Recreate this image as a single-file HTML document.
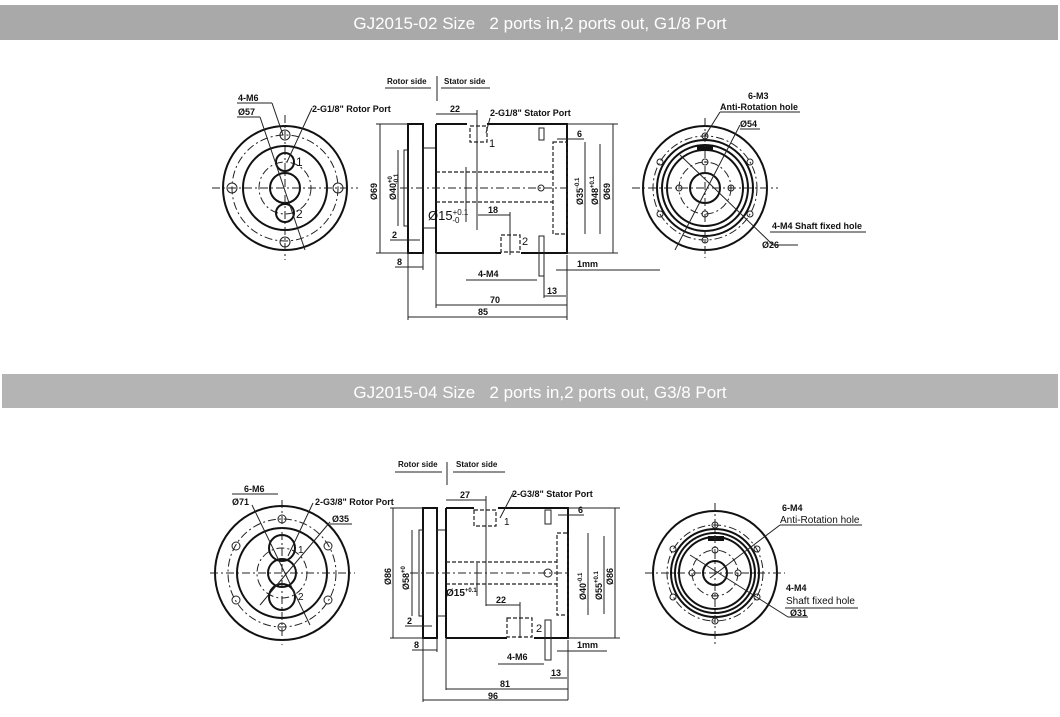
<!DOCTYPE html>
<html><head><meta charset="utf-8"><style>
html,body{margin:0;padding:0;background:#fff;width:1060px;height:717px;overflow:hidden}
svg{display:block}
text{font-family:"Liberation Sans",sans-serif;fill:#111}
.b{fill:none;stroke:#111;stroke-width:2}
.t{fill:none;stroke:#222;stroke-width:1}
.d{fill:none;stroke:#222;stroke-width:1;stroke-dasharray:8 3 2 3}
.h{fill:none;stroke:#222;stroke-width:1.2;stroke-dasharray:4 2}
.s{font-size:9px;font-weight:bold}
</style></head><body>
<svg width="1060" height="717" viewBox="0 0 1060 717">
<!-- banners -->
<rect x="0" y="5" width="1058" height="35" fill="#a9a9a9"/>
<text x="540" y="29" text-anchor="middle" style="fill:#fff;font-size:17px">GJ2015-02 Size &#160; 2 ports in,2 ports out, G1/8 Port</text>
<rect x="2" y="374" width="1056" height="34" fill="#b4b4b4"/>
<text x="540" y="398" text-anchor="middle" style="fill:#fff;font-size:17px">GJ2015-04 Size &#160; 2 ports in,2 ports out, G3/8 Port</text>

<!-- ===== TOP ===== -->
<g>
<!-- left circle -->
<circle cx="285" cy="188" r="62" class="b"/>
<circle cx="285" cy="188" r="42" class="b"/>
<circle cx="285" cy="188" r="53" class="d"/>
<circle cx="285" cy="188" r="26" class="d"/>
<circle cx="285" cy="188" r="15" class="b"/>
<circle cx="285" cy="162" r="9" class="b" stroke-width="3"/>
<circle cx="285" cy="213" r="9" class="b" stroke-width="3"/>
<circle cx="285" cy="135" r="5" class="t"/><circle cx="285" cy="242" r="5" class="t"/>
<circle cx="232" cy="188" r="5" class="t"/><circle cx="338" cy="188" r="5" class="t"/>
<line x1="212" y1="188" x2="358" y2="188" class="d"/>
<line x1="285" y1="115" x2="285" y2="260" class="d"/>
<line x1="260" y1="117" x2="305" y2="250" class="t"/>
<line x1="237" y1="103" x2="272" y2="103" class="t"/>
<line x1="272" y1="103" x2="283" y2="135" class="t"/>
<path d="M312 108 L287 162" class="t"/>
<text x="238" y="101" class="s">4-M6</text>
<text x="238" y="115" class="s">Ø57</text>
<line x1="237" y1="117" x2="260" y2="117" class="t"/>
<text x="312" y="112" class="s">2-G1/8" Rotor Port</text>
<text x="296" y="166" style="font-size:12px">1</text><text x="296" y="218" style="font-size:12px">2</text>

<!-- side view -->
<text x="387" y="84" class="s" style="font-size:8px">Rotor side</text>
<text x="444" y="84" class="s" style="font-size:8px">Stator side</text>
<line x1="385" y1="88" x2="431" y2="88" class="t"/><line x1="441" y1="88" x2="490" y2="88" class="t"/>
<line x1="437" y1="76" x2="437" y2="101" class="t"/>
<rect x="408" y="124" width="15" height="129" class="b"/>
<rect x="423" y="148" width="13" height="80" class="t"/>
<path d="M436 124 H467 M487 124 H567 V253 H521 M501 253 H436 Z" class="b"/>
<path d="M436 124 V253" class="b"/>
<rect x="470" y="126" width="17" height="16" class="h"/>
<rect x="501" y="235" width="19" height="17" class="h"/>
<rect x="553" y="142" width="14" height="92" class="h"/>
<line x1="436" y1="172" x2="553" y2="172" class="h"/>
<line x1="436" y1="202" x2="553" y2="202" class="h"/>
<line x1="400" y1="188" x2="567" y2="188" class="d"/>
<rect x="404" y="150" width="4" height="76" class="t"/>
<circle cx="541" cy="188" r="3" class="t"/>
<rect x="539" y="128" width="5" height="12" class="t"/>
<rect x="539" y="236" width="5" height="40" class="t"/>
<!-- dims -->
<line x1="380" y1="124" x2="380" y2="253" class="t"/>
<line x1="376" y1="124" x2="408" y2="124" class="t"/><line x1="376" y1="253" x2="408" y2="253" class="t"/>
<text x="0" y="0" class="s" transform="translate(377,200) rotate(-90)">Ø69</text>
<line x1="398" y1="150" x2="398" y2="226" class="t"/>
<text x="0" y="0" class="s" transform="translate(396,200) rotate(-90)">Ø40<tspan font-size="6" dy="-4">+0</tspan><tspan font-size="6" dy="6" dx="-8">-0.1</tspan></text>
<text x="428" y="220" style="font-size:13px">Ø15<tspan font-size="8" dy="-5">+0.1</tspan><tspan font-size="8" dy="8" dx="-16">-0</tspan></text>
<line x1="466" y1="167" x2="466" y2="222" class="t"/>
<line x1="478" y1="215" x2="510" y2="215" class="t"/><line x1="510" y1="212" x2="510" y2="255" class="t"/>
<text x="488" y="213" class="s">18</text>
<line x1="436" y1="114" x2="477" y2="114" class="t"/><text x="450" y="112" class="s">22</text>
<line x1="477" y1="110" x2="477" y2="230" class="t"/>
<path d="M490 118 L486 133" class="t"/>
<text x="490" y="116" class="s">2-G1/8"  Stator Port</text>
<text x="489" y="147" style="font-size:11px">1</text><text x="522" y="245" style="font-size:11px">2</text>
<line x1="557" y1="139" x2="584" y2="139" class="t"/><text x="577" y="137" class="s">6</text>
<line x1="585" y1="142" x2="585" y2="234" class="t"/>
<line x1="600" y1="144" x2="600" y2="234" class="t"/>
<text x="0" y="0" class="s" transform="translate(583,205) rotate(-90)">Ø35<tspan font-size="6" dy="-4">-0.1</tspan></text>
<text x="0" y="0" class="s" transform="translate(598,205) rotate(-90)">Ø48<tspan font-size="6" dy="-4">+0.1</tspan></text>
<line x1="613" y1="124" x2="613" y2="253" class="t"/>
<line x1="567" y1="124" x2="618" y2="124" class="t"/><line x1="567" y1="253" x2="618" y2="253" class="t"/>
<text x="0" y="0" class="s" transform="translate(610,200) rotate(-90)">Ø69</text>
<line x1="390" y1="240" x2="420" y2="240" class="t"/><text x="392" y="238" class="s">2</text>
<line x1="395" y1="267" x2="423" y2="267" class="t"/><text x="397" y="265" class="s">8</text>
<line x1="423" y1="253" x2="423" y2="270" class="t"/>
<line x1="567" y1="255" x2="567" y2="320" class="t"/>
<line x1="556" y1="270" x2="660" y2="270" class="t"/><text x="577" y="267" class="s">1mm</text>
<line x1="466" y1="280" x2="537" y2="280" class="t"/><text x="478" y="277" class="s">4-M4</text>
<line x1="544" y1="296" x2="566" y2="296" class="t"/><text x="547" y="294" class="s">13</text>
<line x1="544" y1="276" x2="544" y2="298" class="t"/>
<line x1="436" y1="253" x2="436" y2="308" class="t"/>
<line x1="436" y1="305" x2="567" y2="305" class="t"/><text x="490" y="303" class="s">70</text>
<line x1="408" y1="253" x2="408" y2="320" class="t"/>
<line x1="408" y1="317" x2="567" y2="317" class="t"/><text x="478" y="315" class="s">85</text>

<!-- right circle -->
<circle cx="705" cy="188" r="62" class="b"/>
<circle cx="705" cy="188" r="48" class="b"/>
<circle cx="705" cy="188" r="43" class="b"/>
<circle cx="705" cy="188" r="38" class="b"/>
<circle cx="705" cy="188" r="52" class="d"/>
<circle cx="705" cy="188" r="26" class="d"/>
<circle cx="705" cy="188" r="15" class="b"/>
<g class="t"><circle cx="705" cy="136" r="3"/><circle cx="705" cy="240" r="3"/><circle cx="660" cy="162" r="3"/><circle cx="750" cy="162" r="3"/><circle cx="660" cy="214" r="3"/><circle cx="750" cy="214" r="3"/>
<circle cx="705" cy="162" r="3"/><circle cx="705" cy="214" r="3"/><circle cx="679" cy="188" r="3"/><circle cx="731" cy="188" r="3"/></g>
<rect x="697" y="146" width="16" height="5" fill="#111"/>
<line x1="632" y1="188" x2="778" y2="188" class="d"/>
<line x1="705" y1="118" x2="705" y2="258" class="d"/>
<line x1="740" y1="125" x2="675" y2="250" class="t"/>
<line x1="680" y1="155" x2="773" y2="245" class="t"/>
<line x1="770" y1="232" x2="866" y2="232" class="t"/><line x1="773" y1="245" x2="798" y2="245" class="t"/>
<line x1="720" y1="112" x2="800" y2="112" class="t"/><line x1="720" y1="112" x2="705" y2="136" class="t"/>
<text x="748" y="99" class="s">6-M3</text>
<text x="720" y="110" class="s">Anti-Rotation hole</text>
<text x="740" y="127" class="s">Ø54</text><line x1="740" y1="129" x2="760" y2="129" class="t"/>
<text x="772" y="229" class="s">4-M4 Shaft fixed hole</text>
<text x="762" y="248" class="s">Ø26</text>
</g>

<!-- ===== BOTTOM ===== -->
<g>
<circle cx="282" cy="573" r="67" class="b"/>
<circle cx="282" cy="573" r="45" class="b"/>
<circle cx="282" cy="573" r="54" class="d"/>
<circle cx="282" cy="573" r="25" class="d"/>
<circle cx="282" cy="573" r="14" class="b"/>
<circle cx="282" cy="548" r="13" class="b" stroke-width="3"/>
<circle cx="282" cy="597" r="13" class="b" stroke-width="3"/>
<g class="t"><circle cx="282" cy="519" r="4"/><circle cx="282" cy="627" r="4"/><circle cx="236" cy="546" r="4"/><circle cx="328" cy="546" r="4"/><circle cx="236" cy="600" r="4"/><circle cx="328" cy="600" r="4"/></g>
<line x1="210" y1="573" x2="355" y2="573" class="d"/>
<line x1="282" y1="500" x2="282" y2="645" class="d"/>
<line x1="252" y1="505" x2="310" y2="625" class="t"/>
<line x1="330" y1="522" x2="260" y2="605" class="t"/>
<line x1="232" y1="494" x2="278" y2="494" class="t"/>
<line x1="313" y1="503" x2="288" y2="556" class="t"/>
<text x="244" y="492" class="s">6-M6</text>
<text x="232" y="505" class="s">Ø71</text>
<text x="315" y="505" class="s">2-G3/8" Rotor Port</text>
<text x="332" y="522" class="s">Ø35</text><line x1="330" y1="524" x2="352" y2="524" class="t"/>
<text x="298" y="553" style="font-size:10px">1</text><text x="298" y="600" style="font-size:10px">2</text>

<text x="398" y="467" class="s" style="font-size:8px">Rotor side</text>
<text x="456" y="467" class="s" style="font-size:8px">Stator side</text>
<line x1="395" y1="472" x2="442" y2="472" class="t"/><line x1="453" y1="472" x2="505" y2="472" class="t"/>
<line x1="447" y1="462" x2="447" y2="485" class="t"/>
<rect x="423" y="508" width="14" height="130" class="b"/>
<rect x="437" y="530" width="9" height="86" class="t"/>
<path d="M446 508 H474 M498 508 H568 V638 H534 M507 638 H446 Z" class="b"/>
<path d="M446 508 V638" class="b"/>
<rect x="474" y="510" width="22" height="16" class="h"/>
<rect x="507" y="618" width="25" height="19" class="h"/>
<rect x="557" y="533" width="11" height="82" class="h"/>
<line x1="446" y1="562" x2="557" y2="562" class="h"/>
<line x1="446" y1="584" x2="557" y2="584" class="h"/>
<line x1="410" y1="573" x2="568" y2="573" class="d"/>
<rect x="419" y="530" width="4" height="86" class="t"/>
<circle cx="548" cy="573" r="4" class="t"/>
<rect x="545" y="510" width="6" height="14" class="t"/>
<rect x="545" y="620" width="6" height="40" class="t"/>
<line x1="393" y1="508" x2="393" y2="638" class="t"/>
<line x1="390" y1="508" x2="423" y2="508" class="t"/><line x1="390" y1="638" x2="423" y2="638" class="t"/>
<text x="0" y="0" class="s" transform="translate(391,585) rotate(-90)">Ø86</text>
<line x1="412" y1="530" x2="412" y2="616" class="t"/>
<text x="0" y="0" class="s" transform="translate(409,590) rotate(-90)">Ø58<tspan font-size="6" dy="-4">+0</tspan></text>
<text x="446" y="596" class="s" style="font-size:10px">Ø15<tspan font-size="6" dy="-4">+0.1</tspan></text>
<line x1="477" y1="563" x2="477" y2="596" class="t"/>
<line x1="486" y1="605" x2="520" y2="605" class="t"/><line x1="520" y1="602" x2="520" y2="638" class="t"/>
<text x="496" y="603" class="s">22</text>
<line x1="446" y1="500" x2="486" y2="500" class="t"/><text x="460" y="498" class="s">27</text>
<line x1="486" y1="496" x2="486" y2="606" class="t"/>
<path d="M513 493 L500 518" class="t"/>
<text x="512" y="497" class="s">2-G3/8" Stator Port</text>
<text x="504" y="525" style="font-size:10px">1</text><text x="536" y="632" style="font-size:11px">2</text>
<line x1="558" y1="515" x2="584" y2="515" class="t"/><text x="578" y="513" class="s">6</text>
<line x1="588" y1="533" x2="588" y2="615" class="t"/>
<line x1="604" y1="536" x2="604" y2="614" class="t"/>
<text x="0" y="0" class="s" transform="translate(586,600) rotate(-90)">Ø40<tspan font-size="6" dy="-4">-0.1</tspan></text>
<text x="0" y="0" class="s" transform="translate(602,600) rotate(-90)">Ø55<tspan font-size="6" dy="-4">+0.1</tspan></text>
<line x1="615" y1="508" x2="615" y2="638" class="t"/>
<line x1="568" y1="508" x2="620" y2="508" class="t"/><line x1="568" y1="638" x2="620" y2="638" class="t"/>
<text x="0" y="0" class="s" transform="translate(613,585) rotate(-90)">Ø86</text>
<line x1="405" y1="626" x2="432" y2="626" class="t"/><text x="407" y="624" class="s">2</text>
<line x1="412" y1="650" x2="437" y2="650" class="t"/><text x="414" y="648" class="s">8</text>
<line x1="437" y1="638" x2="437" y2="652" class="t"/>
<line x1="568" y1="640" x2="568" y2="700" class="t"/>
<line x1="557" y1="651" x2="607" y2="651" class="t"/><text x="577" y="648" class="s">1mm</text>
<line x1="498" y1="664" x2="544" y2="664" class="t"/><text x="507" y="660" class="s">4-M6</text>
<line x1="550" y1="678" x2="567" y2="678" class="t"/><text x="551" y="676" class="s">13</text>
<line x1="446" y1="638" x2="446" y2="690" class="t"/>
<line x1="446" y1="689" x2="568" y2="689" class="t"/><text x="500" y="687" class="s">81</text>
<line x1="423" y1="638" x2="423" y2="702" class="t"/>
<line x1="423" y1="700" x2="568" y2="700" class="t"/><text x="488" y="699" class="s">96</text>

<circle cx="715" cy="573" r="62" class="b"/>
<circle cx="715" cy="573" r="44" class="b"/>
<circle cx="715" cy="573" r="40" class="b"/>
<circle cx="715" cy="573" r="36" class="b"/>
<circle cx="715" cy="573" r="48" class="d"/>
<circle cx="715" cy="573" r="23" class="d"/>
<circle cx="715" cy="573" r="12" class="b"/>
<g class="t"><circle cx="715" cy="525" r="3"/><circle cx="715" cy="621" r="3"/><circle cx="673" cy="549" r="3"/><circle cx="757" cy="549" r="3"/><circle cx="673" cy="597" r="3"/><circle cx="757" cy="597" r="3"/>
<circle cx="715" cy="550" r="3"/><circle cx="715" cy="596" r="3"/><circle cx="692" cy="573" r="3"/><circle cx="738" cy="573" r="3"/></g>
<rect x="708" y="536" width="16" height="5" fill="#111"/>
<line x1="645" y1="573" x2="785" y2="573" class="d"/>
<line x1="715" y1="503" x2="715" y2="645" class="d"/>
<line x1="780" y1="525" x2="710" y2="578" class="t"/>
<line x1="690" y1="555" x2="788" y2="617" class="t"/>
<line x1="780" y1="525" x2="862" y2="525" class="t"/>
<line x1="785" y1="608" x2="858" y2="608" class="t"/>
<line x1="788" y1="617" x2="808" y2="617" class="t"/>
<text x="782" y="511" class="s">6-M4</text>
<text x="780" y="523" class="s" style="font-weight:normal;font-size:10px">Anti-Rotation hole</text>
<text x="786" y="591" class="s">4-M4</text>
<text x="786" y="604" class="s" style="font-weight:normal;font-size:10px">Shaft fixed hole</text>
<text x="790" y="616" class="s">Ø31</text>
</g>
</svg>
</body></html>
